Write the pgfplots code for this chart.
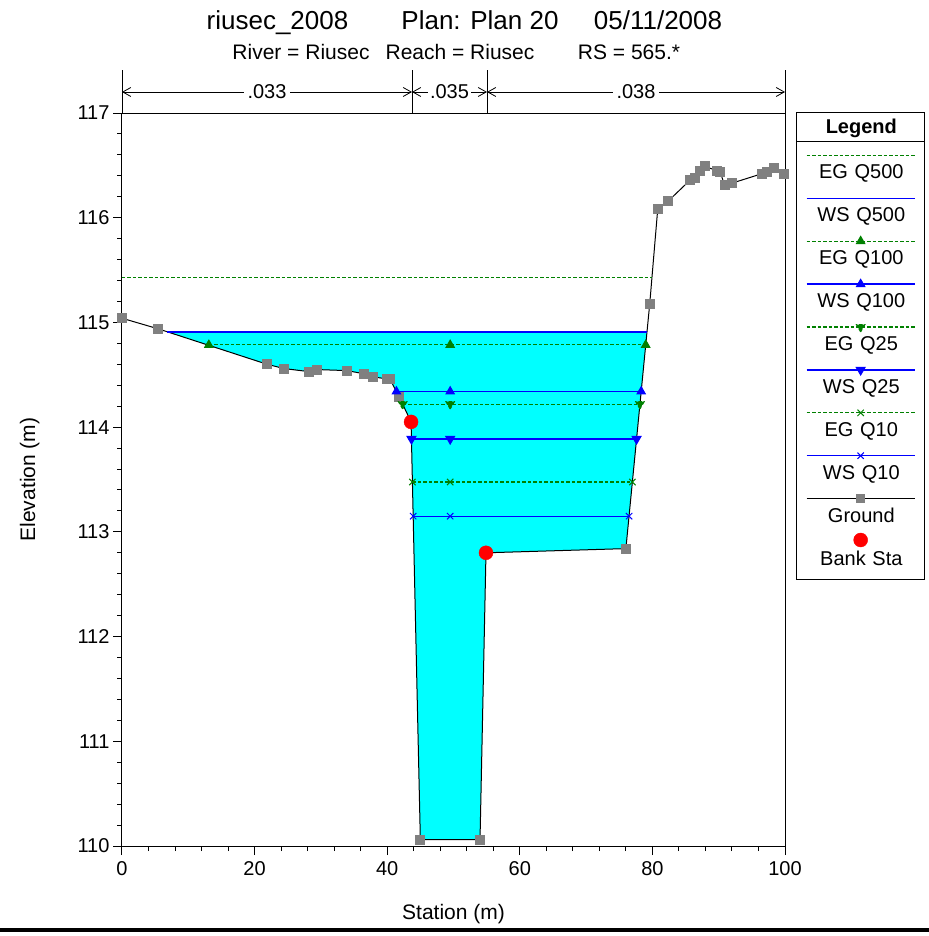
\documentclass[border=0pt]{standalone}
\usepackage{fontspec}
\setmainfont{Liberation Sans}
\usepackage{pgfplots}
\pgfplotsset{compat=1.18}
\usetikzlibrary{arrows.meta}
\newcommand\fs[1]{\fontsize{#1bp}{#1bp}\selectfont}
\definecolor{egc}{RGB}{0,128,0}
\definecolor{wsc}{RGB}{0,0,255}
\definecolor{grd}{RGB}{128,128,128}
\definecolor{aqua}{RGB}{0,255,255}
\pgfplotsset{
  lineleg/.style={legend image code/.code={\path (0,0);\draw[overlay,mark repeat=2,mark phase=2] plot coordinates {(10bp,16.5bp) (64bp,16.5bp) (118bp,16.5bp)};}},
  markleg/.style={legend image code/.code={\path (0,0);\draw[overlay] plot coordinates {(64bp,18bp)};}},
  eg/.style={color=egc, draw=egc, line width=1.1bp, dash pattern=on 3.5bp off 2bp, lineleg, mark options={solid, fill=egc, draw=egc, line width=1bp}},
  ws/.style={color=wsc, draw=wsc, line width=1.3bp, lineleg, mark options={solid, fill=wsc, draw=wsc, line width=1bp}},
}
\begin{document}
\begin{tikzpicture}
\begin{axis}[
  at={(0,0)}, anchor=south west,
  width=663bp, height=733bp, scale only axis,
  xmin=0, xmax=100, ymin=110, ymax=117,
  xtick={0,20,...,100}, ytick={110,111,...,117},
  minor x tick num=4, minor y tick num=4,
  tick align=outside, xtick pos=bottom, ytick pos=left,
  major tick length=9bp, minor tick length=5bp,
  tick style={black, line width=1bp},
  axis line style={line width=1bp},
  clip=false,
  /pgf/number format/assume math mode=true,
  tick label style={font=\fs{20}},
  xticklabel style={yshift=-3bp},
  xlabel={Station (m)}, ylabel={Elevation (m)},
  label style={font=\fs{21}},
  xlabel style={at={(axis description cs:0.5,-0.0996)}, anchor=base},
  ylabel style={at={(axis description cs:-0.1312,0.5)}, anchor=base, rotate=0},
  legend cell align=center,
  legend style={at={(1,1)}, anchor=north west, xshift=11bp, yshift=-6bp,
    draw=none, fill=none, inner sep=0pt, outer sep=0pt,
    row sep=28.9bp, column sep=0pt, font=\fs{20},
    nodes={inner sep=0pt, outer sep=0pt, text width=128bp, align=center, text height=14bp, text depth=0pt}},
]
\addlegendimage{empty legend}
\addlegendentry[text depth=3bp]{\textbf{Legend}}
% water area (WS Q500)
\addplot[fill=aqua, draw=none, forget plot] coordinates {
 (6.86,114.91) (21.9,114.60) (24.4,114.56) (28.2,114.53) (29.4,114.55) (33.9,114.54)
 (36.5,114.51) (37.9,114.48) (40.0,114.46) (40.4,114.46) (41.8,114.29) (43.6,114.05)
 (45.0,110.06) (54.0,110.06) (54.9,112.80) (76.0,112.84) (79.18,114.91)};
% ground line
\addplot[black, line width=1bp, mark=square*, mark size=4.5bp, mark options={fill=grd, draw=grd}, forget plot] coordinates {
 (0,115.04) (5.4,114.94) (21.9,114.60) (24.4,114.56) (28.2,114.53) (29.4,114.55)
 (33.9,114.54) (36.5,114.51) (37.9,114.48) (40.0,114.46) (40.4,114.46) (41.8,114.29)
 (43.6,114.05) (45.0,110.06) (54.0,110.06) (54.9,112.80) (76.0,112.84) (79.6,115.18)
 (80.8,116.08) (82.4,116.16) (85.7,116.36) (86.4,116.38) (87.2,116.45) (87.9,116.49)
 (89.7,116.45) (90.2,116.44) (90.9,116.31) (92.0,116.33) (96.5,116.42) (97.3,116.44)
 (98.3,116.47) (99.9,116.42)};
\addplot[eg] coordinates {(0,115.43) (79.93,115.43)};
\addlegendentry{EG Q500}
\addplot[ws] coordinates {(6.86,114.91) (79.18,114.91)};
\addlegendentry{WS Q500}
\addplot[eg, mark=triangle*, mark size=4.8bp] coordinates {(13.1,114.785) (49.5,114.785) (78.99,114.785)};
\addlegendentry{EG Q100}
\addplot[ws, mark=triangle*, mark size=4.8bp] coordinates {(41.39,114.34) (49.5,114.34) (78.31,114.34)};
\addlegendentry{WS Q100}
\addplot[eg, mark=triangle*, mark size=4.8bp, mark options={rotate=180}] coordinates {(42.33,114.22) (49.5,114.22) (78.12,114.22)};
\addlegendentry{EG Q25}
\addplot[ws, mark=triangle*, mark size=4.8bp, mark options={rotate=180}] coordinates {(43.66,113.887) (49.5,113.887) (77.61,113.887)};
\addlegendentry{WS Q25}
\addplot[eg, mark=x, mark size=4.5bp] coordinates {(43.80,113.476) (49.5,113.476) (76.98,113.476)};
\addlegendentry{EG Q10}
\addplot[ws, mark=x, mark size=4.5bp] coordinates {(43.92,113.15) (49.5,113.15) (76.48,113.15)};
\addlegendentry{WS Q10}
\addlegendimage{black, line width=1bp, mark=square*, mark size=4bp, mark options={fill=grd, draw=grd}, lineleg}
\addlegendentry{Ground}
\addplot[only marks, mark=*, mark size=7bp, mark options={fill=red, draw=red}, markleg] coordinates {(43.6,114.05) (54.9,112.80)};
\addlegendentry{Bank Sta}
\end{axis}
% titles
\node[anchor=base, font=\fs{26}] at (155.5bp,816bp) {riusec\_2008};
\node[anchor=base, font=\fs{26}] at (358bp,816bp) {Plan: Plan 20};
\node[anchor=base, font=\fs{26}] at (536bp,816bp) {05/11/2008};
\node[anchor=base, font=\fs{21}] at (179bp,786.5bp) {River = Riusec};
\node[anchor=base, font=\fs{21}] at (338bp,786.5bp) {Reach = Riusec};
\node[anchor=base, font=\fs{21}] at (507bp,786.5bp) {RS = 565.*};
% Manning n zones
\foreach \xx in {0,290,365,663} {\draw[line width=1bp] (\xx bp,733bp) -- (\xx bp,776bp);}
\draw[line width=0.8bp, {Straight Barb[length=8bp,width=9bp]}-{Straight Barb[length=8bp,width=9bp]}] (0bp,754bp) -- (290bp,754bp);
\draw[line width=0.8bp, {Straight Barb[length=8bp,width=9bp]}-{Straight Barb[length=8bp,width=9bp]}] (290bp,754bp) -- (365bp,754bp);
\draw[line width=0.8bp, {Straight Barb[length=8bp,width=9bp]}-{Straight Barb[length=8bp,width=9bp]}] (365bp,754bp) -- (663bp,754bp);
\node[fill=white, inner xsep=4bp, inner ysep=1bp, font=\fs{20}] at (145bp,754bp) {.033};
\node[fill=white, inner xsep=2bp, inner ysep=1bp, font=\fs{20}] at (327.5bp,754bp) {.035};
\node[fill=white, inner xsep=4bp, inner ysep=1bp, font=\fs{20}] at (514bp,754bp) {.038};
% legend frame
\draw[line width=1bp] (674bp,266bp) rectangle (802bp,733bp);
\draw[line width=1bp] (674bp,704bp) -- (802bp,704bp);
% bottom window edge
\draw[line width=4bp] (-122bp,-84bp) -- (807bp,-84bp);
\pgfresetboundingbox
\path[use as bounding box] (-122bp,-90bp) rectangle (807bp,846bp);
\end{tikzpicture}
\end{document}
